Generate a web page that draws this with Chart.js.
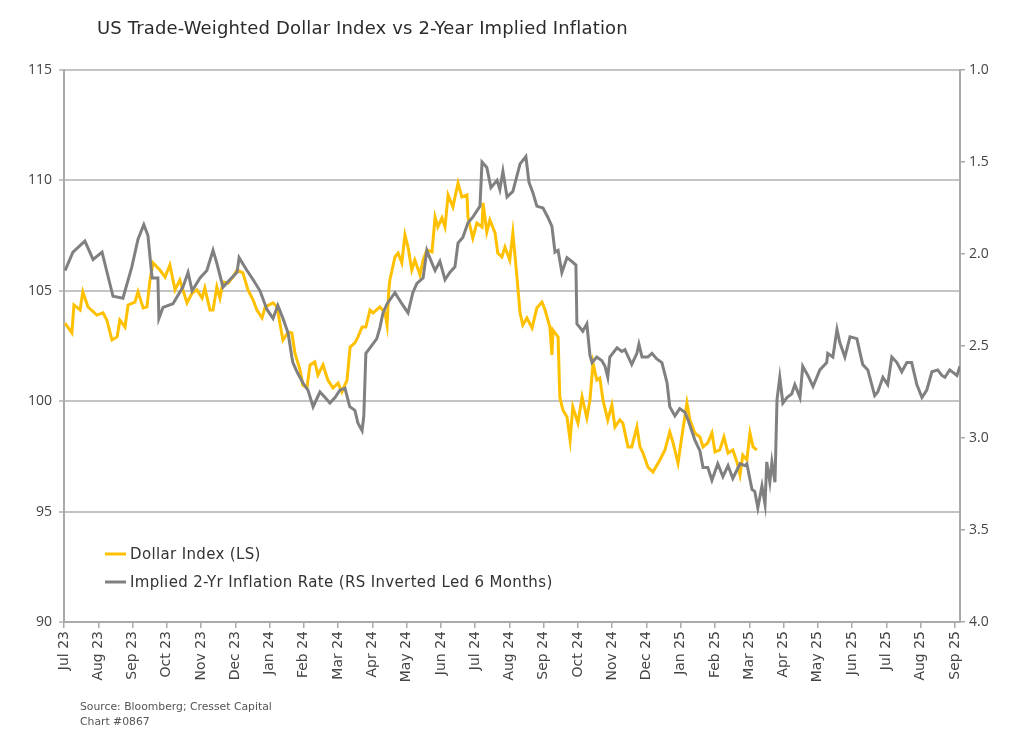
<!DOCTYPE html>
<html lang="en">
<head>
    <meta charset="UTF-8">
    <title>US Trade-Weighted Dollar Index vs 2-Year Implied Inflation</title>
    <script src="https://cdn.jsdelivr.net/npm/chart.js"></script>
    <style>
        body {
            margin: 0;
            background: #ffffff;
            font-family: "DejaVu Sans", Arial, sans-serif;
        }
        .wrap {
            position: relative;
            width: 1024px;
            height: 743px;
        }
        .title {
            position: absolute;
            left: 97px;
            top: 17px;
            font-size: 18px;
            letter-spacing: 0.15px;
            color: #2b2b2b;
        }
        .source {
            position: absolute;
            left: 80px;
            top: 699px;
            font-size: 10.8px;
            line-height: 15px;
            color: #555;
        }
    </style>
</head>
<body>
    <div class="wrap">
        <canvas id="chart"></canvas>
        <div class="title">US Trade-Weighted Dollar Index vs 2-Year Implied Inflation</div>
        <div class="source">Source: Bloomberg; Cresset Capital<br>Chart #0867</div>
    </div>

    <script>
        // month labels, one per tick (0 = Jul 23)
        const monthLabels = ['Jul 23', 'Aug 23', 'Sep 23', 'Oct 23', 'Nov 23', 'Dec 23', 'Jan 24', 'Feb 24',
            'Mar 24', 'Apr 24', 'May 24', 'Jun 24', 'Jul 24', 'Aug 24', 'Sep 24', 'Oct 24', 'Nov 24', 'Dec 24',
            'Jan 25', 'Feb 25', 'Mar 25', 'Apr 25', 'May 25', 'Jun 25', 'Jul 25', 'Aug 25', 'Sep 25'];

        // Dollar index (left scale), x in months since Jul 2023
        const dollarMonths = [0.03, 0.23, 0.29, 0.47, 0.55, 0.70, 0.96, 1.14, 1.25, 1.40, 1.55, 1.63, 1.78, 1.87,
            2.07, 2.16, 2.31, 2.42, 2.51, 2.60, 2.80, 2.95, 3.09, 3.24, 3.38, 3.59, 3.74, 3.88, 4.03, 4.11, 4.26,
            4.35, 4.46, 4.55, 4.64, 4.79, 4.93, 5.05, 5.22, 5.37, 5.52, 5.63, 5.78, 5.87, 6.10, 6.22, 6.30, 6.39,
            6.54, 6.65, 6.74, 6.89, 6.97, 7.09, 7.18, 7.32, 7.41, 7.56, 7.70, 7.85, 8.00, 8.11, 8.26, 8.35, 8.49,
            8.58, 8.70, 8.81, 8.93, 9.02, 9.22, 9.37, 9.43, 9.48, 9.51, 9.66, 9.75, 9.86, 9.95, 10.04, 10.15,
            10.24, 10.39, 10.48, 10.59, 10.74, 10.83, 10.91, 11.03, 11.12, 11.21, 11.35, 11.50, 11.61, 11.76,
            11.79, 11.93, 12.05, 12.20, 12.23, 12.34, 12.43, 12.58, 12.66, 12.78, 12.87, 13.01, 13.10, 13.22,
            13.31, 13.39, 13.51, 13.66, 13.80, 13.95, 14.04, 14.18, 14.24, 14.27, 14.42, 14.47, 14.56, 14.68,
            14.77, 14.85, 15.00, 15.12, 15.26, 15.35, 15.44, 15.55, 15.64, 15.73, 15.87, 15.99, 16.08, 16.22,
            16.31, 16.46, 16.57, 16.72, 16.81, 16.90, 17.04, 17.19, 17.39, 17.54, 17.68, 17.77, 17.92, 18.03,
            18.18, 18.27, 18.41, 18.56, 18.65, 18.79, 18.91, 19.00, 19.14, 19.26, 19.38, 19.52, 19.64, 19.73,
            19.81, 19.93, 20.02, 20.11, 20.22];
        const dollarValues = [103.54, 103.09, 104.36, 104.13, 104.95, 104.27, 103.90, 104.00, 103.68, 102.77,
            102.91, 103.68, 103.36, 104.36, 104.49, 104.95, 104.22, 104.27, 105.49, 106.26, 105.94, 105.62, 106.17,
            105.04, 105.49, 104.45, 104.90, 105.04, 104.67, 105.13, 104.13, 104.13, 105.17, 104.67, 105.40, 105.35,
            105.62, 105.94, 105.81, 105.04, 104.58, 104.13, 103.77, 104.27, 104.45, 104.27, 103.54, 102.77, 103.13,
            103.09, 102.18, 101.41, 100.73, 100.60, 101.64, 101.78, 101.19, 101.64, 100.96, 100.60, 100.82, 100.42,
            100.96, 102.45, 102.64, 102.91, 103.36, 103.36, 104.13, 104.00, 104.27, 104.00, 103.45, 105.04, 105.49,
            106.53, 106.71, 106.26, 107.53, 106.98, 105.94, 106.39, 105.72, 106.39, 106.85, 106.76, 108.34, 107.89,
            108.30, 107.89, 109.34, 108.80, 109.88, 109.25, 109.34, 108.34, 107.39, 108.07, 107.89, 108.98, 107.66,
            108.21, 107.62, 106.71, 106.53, 106.98, 106.39, 107.62, 105.62, 104.00, 103.45, 103.77, 103.32, 104.22,
            104.49, 104.13, 103.36, 102.09, 103.22, 102.91, 100.19, 99.60, 99.28, 98.24, 99.74, 99.01, 100.19, 99.24,
            100.05, 101.73, 100.96, 101.05, 100.05, 99.15, 99.83, 98.83, 99.15, 99.01, 97.93, 97.93, 98.83, 97.93,
            97.65, 97.02, 96.79, 97.34, 97.79, 98.61, 98.15, 97.20, 98.38, 99.92, 99.15, 98.56, 98.38, 97.93, 98.11,
            98.56, 97.70, 97.79, 98.38, 97.65, 97.79, 97.25, 96.66, 97.56, 97.34, 98.56, 97.93, 97.79];

        // Implied 2-yr inflation (right scale, inverted, led 6 months)
        const inflMonths = [0.03, 0.26, 0.61, 0.85, 1.11, 1.43, 1.72, 1.98, 2.16, 2.33, 2.45, 2.57, 2.74, 2.77,
            2.89, 3.18, 3.47, 3.62, 3.74, 3.97, 4.17, 4.35, 4.46, 4.64, 4.84, 5.05, 5.11, 5.34, 5.52, 5.72, 5.92,
            6.10, 6.24, 6.39, 6.54, 6.65, 6.68, 6.80, 6.97, 7.12, 7.27, 7.47, 7.62, 7.76, 7.91, 8.05, 8.20, 8.34,
            8.49, 8.58, 8.70, 8.75, 8.81, 8.93, 9.13, 9.22, 9.31, 9.43, 9.66, 9.86, 10.04, 10.18, 10.30, 10.48,
            10.59, 10.74, 10.83, 10.97, 11.12, 11.26, 11.41, 11.50, 11.64, 11.79, 11.93, 12.14, 12.20, 12.34,
            12.46, 12.64, 12.72, 12.81, 12.93, 13.10, 13.31, 13.48, 13.57, 13.69, 13.80, 13.98, 14.12, 14.24,
            14.33, 14.42, 14.53, 14.68, 14.82, 14.94, 14.97, 15.06, 15.14, 15.26, 15.35, 15.41, 15.55, 15.70,
            15.79, 15.87, 15.93, 16.14, 16.28, 16.37, 16.57, 16.72, 16.78, 16.87, 17.04, 17.16, 17.30, 17.45,
            17.60, 17.68, 17.83, 17.97, 18.12, 18.21, 18.41, 18.56, 18.65, 18.79, 18.91, 19.08, 19.23, 19.38,
            19.52, 19.73, 19.87, 19.93, 20.08, 20.16, 20.25, 20.37, 20.46, 20.51, 20.60, 20.66, 20.75, 20.81,
            20.89, 20.98, 21.10, 21.24, 21.33, 21.48, 21.56, 21.71, 21.86, 22.06, 22.26, 22.29, 22.44, 22.56,
            22.64, 22.79, 22.94, 23.14, 23.31, 23.46, 23.66, 23.75, 23.90, 24.04, 24.16, 24.31, 24.45, 24.60,
            24.74, 24.89, 25.04, 25.18, 25.33, 25.50, 25.62, 25.71, 25.85, 26.06, 26.15];
        const inflValues = [2.09, 1.99, 1.93, 2.03, 1.99, 2.23, 2.24, 2.07, 1.92, 1.84, 1.90, 2.13, 2.13, 2.35,
            2.29, 2.27, 2.18, 2.10, 2.20, 2.13, 2.09, 1.98, 2.05, 2.18, 2.14, 2.10, 2.02, 2.09, 2.14, 2.20, 2.30,
            2.35, 2.28, 2.35, 2.43, 2.56, 2.59, 2.64, 2.70, 2.74, 2.83, 2.75, 2.78, 2.81, 2.78, 2.74, 2.73, 2.83,
            2.85, 2.92, 2.96, 2.88, 2.54, 2.51, 2.46, 2.40, 2.32, 2.27, 2.21, 2.27, 2.32, 2.21, 2.16, 2.13, 1.98,
            2.05, 2.09, 2.04, 2.14, 2.10, 2.07, 1.94, 1.91, 1.83, 1.80, 1.74, 1.50, 1.53, 1.64, 1.60, 1.65, 1.55,
            1.69, 1.66, 1.51, 1.47, 1.61, 1.67, 1.74, 1.75, 1.80, 1.85, 1.99, 1.98, 2.10, 2.02, 2.04, 2.06, 2.38,
            2.40, 2.42, 2.38, 2.55, 2.59, 2.56, 2.58, 2.61, 2.67, 2.56, 2.51, 2.53, 2.52, 2.60, 2.54, 2.49, 2.56,
            2.56, 2.54, 2.57, 2.59, 2.70, 2.83, 2.88, 2.84, 2.86, 2.90, 3.01, 3.07, 3.16, 3.16, 3.23, 3.14, 3.21,
            3.15, 3.22, 3.14, 3.15, 3.14, 3.28, 3.29, 3.38, 3.26, 3.36, 3.13, 3.24, 3.13, 3.24, 2.79, 2.67, 2.81,
            2.78, 2.76, 2.71, 2.78, 2.61, 2.66, 2.72, 2.63, 2.59, 2.54, 2.56, 2.41, 2.48, 2.56, 2.45, 2.46, 2.60,
            2.63, 2.77, 2.75, 2.67, 2.71, 2.56, 2.59, 2.64, 2.59, 2.59, 2.71, 2.78, 2.74, 2.64, 2.63, 2.66, 2.67,
            2.63, 2.66, 2.61];

        const leftMin = 90, leftMax = 115, leftStep = 5;
        const rightMin = 1.0, rightMax = 4.0, rightStep = 0.5;

        const dollarPoints = dollarMonths.map((m, i) => ({ x: m, y: dollarValues[i] }));
        const inflPoints = inflMonths.map((m, i) => ({ x: m, y: inflValues[i] }));

        const numFont = { family: '"Open Sans", Arial, sans-serif', size: 14 };
        const monthFont = { family: '"DejaVu Sans", Arial, sans-serif', size: 14 };

        // legend drawn inside the plot, lower left
        const innerLegend = {
            id: 'innerLegend',
            afterDraw(chart) {
                const ctx = chart.ctx;
                const area = chart.chartArea;
                ctx.save();
                ctx.font = '15px "DejaVu Sans", Arial, sans-serif';
                ctx.letterSpacing = '0.35px';
                ctx.textBaseline = 'middle';
                chart.data.datasets.forEach((ds, i) => {
                    const y = area.bottom - 68 + i * 28;
                    const x = area.left + 41;
                    ctx.strokeStyle = ds.borderColor;
                    ctx.lineWidth = 3;
                    ctx.beginPath();
                    ctx.moveTo(x, y);
                    ctx.lineTo(x + 21, y);
                    ctx.stroke();
                    ctx.fillStyle = '#333';
                    ctx.fillText(ds.label, x + 25, y + 1);
                });
                ctx.restore();
            }
        };

        new Chart(document.getElementById('chart'), {
            type: 'line',
            data: {
                datasets: [
                    {
                        label: 'Dollar Index (LS)',
                        data: dollarPoints,
                        yAxisID: 'y',
                        borderColor: '#FFC000',
                        borderWidth: 3,
                        pointRadius: 0,
                        tension: 0,
                        order: 1
                    },
                    {
                        label: 'Implied 2-Yr Inflation Rate (RS Inverted Led 6 Months)',
                        data: inflPoints,
                        yAxisID: 'y2',
                        borderColor: '#808080',
                        borderWidth: 3,
                        pointRadius: 0,
                        tension: 0,
                        order: 0
                    }
                ]
            },
            options: {
                responsive: true,
                maintainAspectRatio: false,
                animation: false,
                layout: { padding: { top: 70, left: 0, right: 0, bottom: 0 } },
                plugins: {
                    legend: { display: false },
                    tooltip: { enabled: false }
                },
                scales: {
                    x: {
                        type: 'linear',
                        min: 0,
                        max: 26.15,
                        afterFit: (scale) => { scale.height = 121; },
                        grid: { drawOnChartArea: false, color: '#aaa', lineWidth: 1.5, tickLength: 6 },
                        border: { color: '#aaa', width: 2 },
                        ticks: {
                            stepSize: 1,
                            includeBounds: false,
                            autoSkip: false,
                            minRotation: 90,
                            maxRotation: 90,
                            padding: 3,
                            color: '#444',
                            font: monthFont,
                            callback: (v) => monthLabels[v]
                        }
                    },
                    y: {
                        position: 'left',
                        min: leftMin,
                        max: leftMax,
                        afterFit: (scale) => { scale.width = 64; },
                        grid: { color: '#c4c4c4', lineWidth: 2, tickLength: 5 },
                        border: { color: '#aaa', width: 2 },
                        ticks: { stepSize: leftStep, padding: 7, color: '#444', font: numFont }
                    },
                    y2: {
                        position: 'right',
                        min: rightMin,
                        max: rightMax,
                        reverse: true,
                        afterFit: (scale) => { scale.width = 64; },
                        grid: { drawOnChartArea: false, color: '#aaa', lineWidth: 1.5, tickLength: 5 },
                        border: { color: '#aaa', width: 2 },
                        ticks: {
                            stepSize: rightStep,
                            padding: 4,
                            color: '#444',
                            font: numFont,
                            callback: (v) => v.toFixed(1)
                        }
                    }
                }
            },
            plugins: [innerLegend]
        });
    </script>
</body>
</html>
